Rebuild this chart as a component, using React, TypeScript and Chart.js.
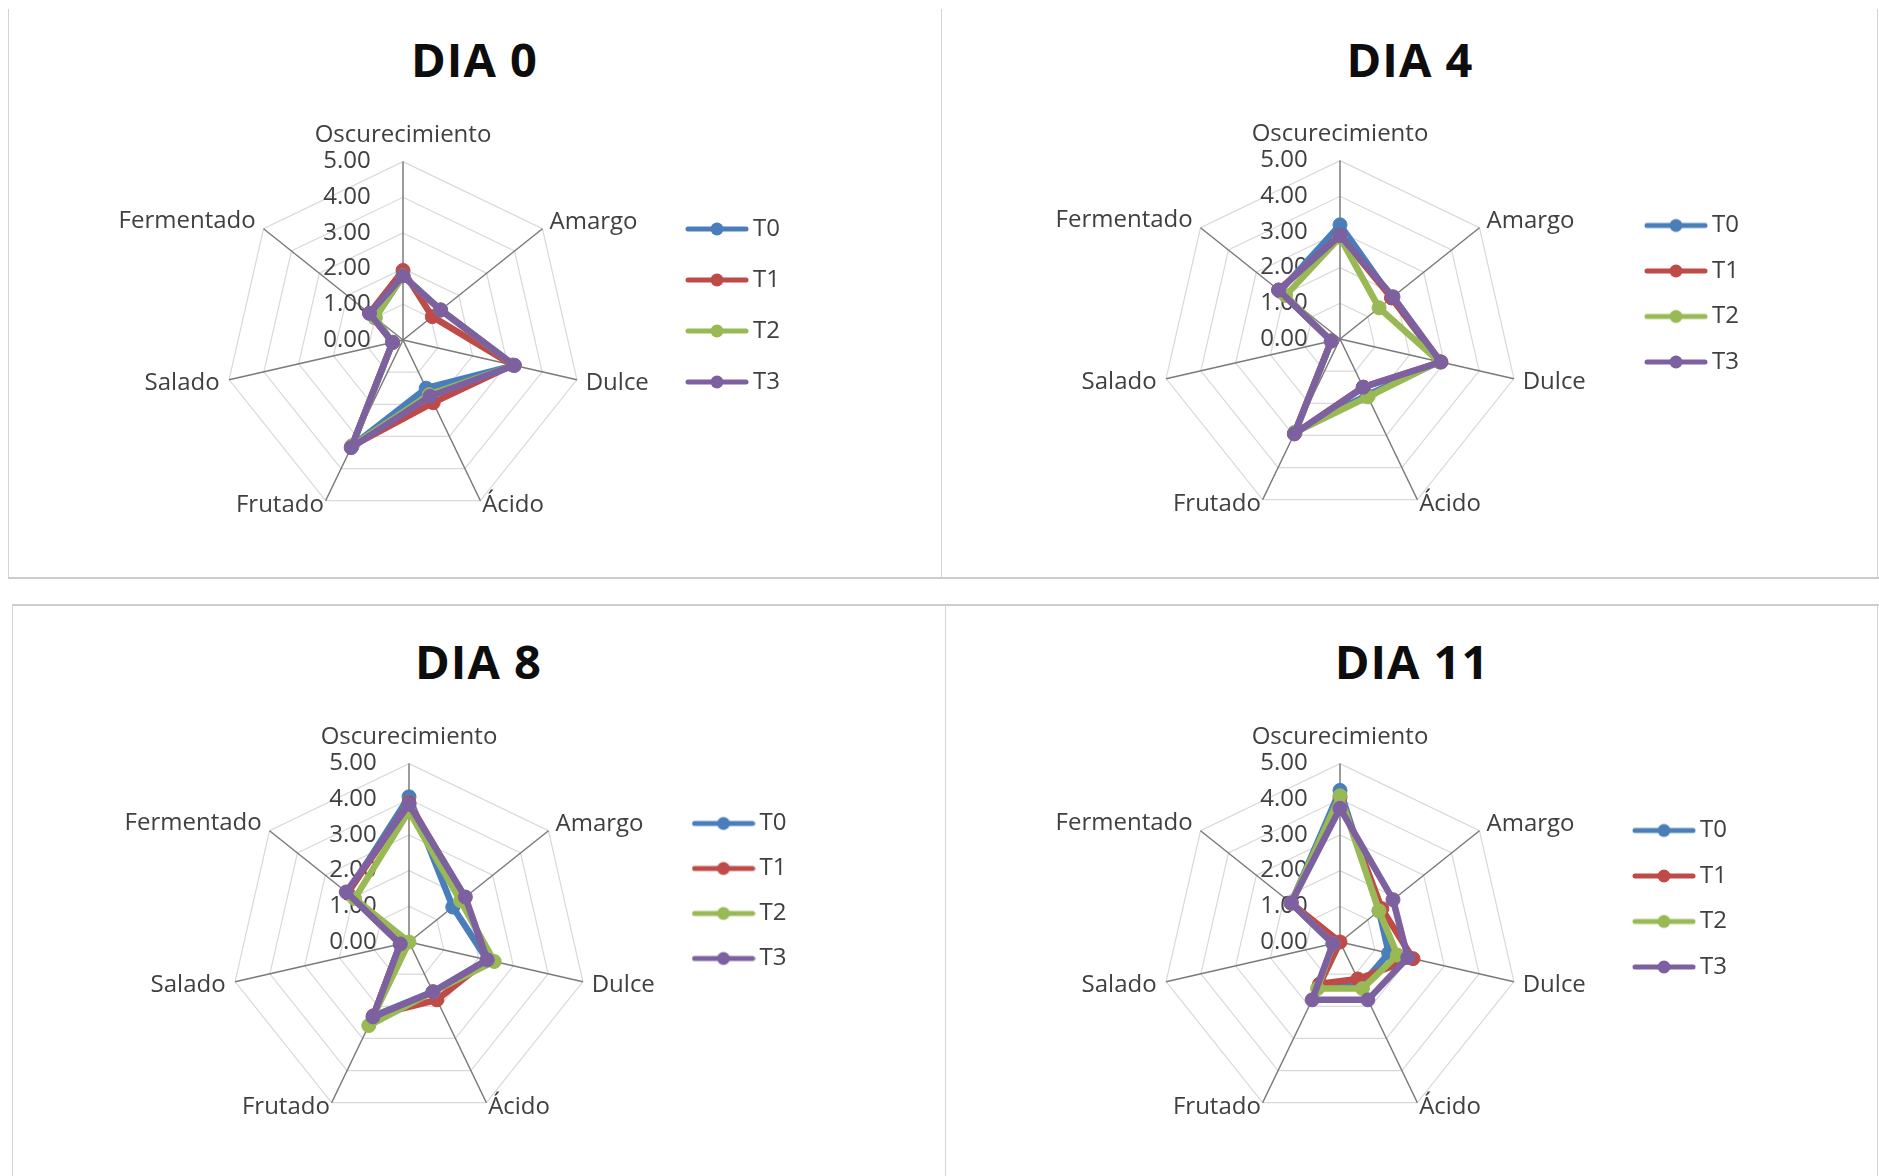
import React, { useEffect, useRef } from "react";
import { Chart, registerables } from "chart.js";

Chart.register(...registerables);

// ---------------- data ----------------
const CATEGORIES = ["Oscurecimiento", "Amargo", "Dulce", "Ácido", "Frutado", "Salado", "Fermentado"];
const SERIES_NAMES = ["T0", "T1", "T2", "T3"];
const TICK_VALUES = [0, 1, 2, 3, 4, 5];
const TITLES = ["DIA 0", "DIA 4", "DIA 8", "DIA 11"];

const DIA0_T0 = [1.8, 1.35, 3.2, 1.5, 3.3, 0.3, 1.0];
const DIA0_T1 = [1.95, 1.05, 3.15, 1.95, 3.3, 0.3, 1.2];
const DIA0_T2 = [1.8, 1.35, 3.2, 1.7, 3.3, 0.3, 1.0];
const DIA0_T3 = [1.8, 1.35, 3.2, 1.75, 3.35, 0.3, 1.2];

const DIA4_T0 = [3.2, 1.85, 2.85, 1.75, 2.9, 0.25, 2.15];
const DIA4_T1 = [2.9, 1.85, 2.9, 1.5, 2.95, 0.25, 2.2];
const DIA4_T2 = [2.85, 1.4, 2.85, 1.8, 2.9, 0.25, 1.95];
const DIA4_T3 = [2.9, 1.9, 2.9, 1.5, 2.95, 0.25, 2.2];

const DIA8_T0 = [4.07, 1.57, 2.25, 1.55, 2.3, 0.25, 2.2];
const DIA8_T1 = [3.9, 2.0, 2.25, 1.8, 2.3, 0.25, 2.2];
const DIA8_T2 = [3.67, 1.85, 2.45, 1.55, 2.6, 0.0, 1.95];
const DIA8_T3 = [3.86, 2.02, 2.25, 1.55, 2.33, 0.25, 2.25];

const DIA11_T0 = [4.25, 1.4, 1.4, 1.35, 1.35, 0.2, 1.75];
const DIA11_T1 = [4.05, 1.5, 2.1, 1.15, 1.3, 0.0, 1.75];
const DIA11_T2 = [4.1, 1.4, 1.65, 1.45, 1.45, 0.2, 1.75];
const DIA11_T3 = [3.75, 1.9, 1.95, 1.8, 1.8, 0.2, 1.75];

const DIA0 = [DIA0_T0, DIA0_T1, DIA0_T2, DIA0_T3];
const DIA4 = [DIA4_T0, DIA4_T1, DIA4_T2, DIA4_T3];
const DIA8 = [DIA8_T0, DIA8_T1, DIA8_T2, DIA8_T3];
const DIA11 = [DIA11_T0, DIA11_T1, DIA11_T2, DIA11_T3];
const ALL_DAYS = [DIA0, DIA4, DIA8, DIA11];

// ---------------- style / layout ----------------
const COLORS = ["#4A7EBB", "#BE4B48", "#98B954", "#7D60A0"];
const TEXT_COLOR = "#404040";
const FONT = "'Open Sans', 'DejaVu Sans', sans-serif";
const FONT_SIZE = 24;
const LABEL_LH = 0.1; // point-label line height factor

const HALF_W = 275; // half width of radial area (before label fitting)
const D0 = 205; // initial drawing area
const TICK_PAD = 12; // radial scale padding from tick font
const LABEL_PAD = [13.4, -3, -3, -8, -8, -2.3, -2];
const SHIFT_X = 13;
const SHIFT_Y = Math.floor((LABEL_PAD[0] + FONT_SIZE * LABEL_LH) / 2);
const LEG_W = 150;
const PAD_R = 10;
const BOX_W = 48;
const SWATCH_W = 64;
const SWATCH_H = 16;

const LAYOUT = [
  { cx: 403, cy: 340, legX: 685, legY: 229, legGap: 51, titleX: 474.5, titleY: 61 },
  { cx: 1340, cy: 339, legX: 1644, legY: 225.5, legGap: 45.5, titleX: 1410, titleY: 61 },
  { cx: 409, cy: 942, legX: 691.5, legY: 823.5, legGap: 45, titleX: 478.5, titleY: 662.5 },
  { cx: 1340, cy: 942, legX: 1632, legY: 830.5, legGap: 45.5, titleX: 1412, titleY: 662.5 },
];

function makeSwatch(color: string): HTMLCanvasElement {
  const c = document.createElement("canvas");
  c.width = SWATCH_W;
  c.height = SWATCH_H;
  const g = c.getContext("2d")!;
  g.strokeStyle = color;
  g.fillStyle = color;
  g.lineWidth = 5;
  g.lineCap = "round";
  g.beginPath();
  g.moveTo(3, SWATCH_H / 2);
  g.lineTo(SWATCH_W - 3, SWATCH_H / 2);
  g.stroke();
  g.beginPath();
  g.arc(SWATCH_W / 2, SWATCH_H / 2, 6.5, 0, Math.PI * 2);
  g.fill();
  return c;
}

type Lay = (typeof LAYOUT)[number];

function RadarChart({ series, lay }: { series: number[][]; lay: Lay }) {
  const ref = useRef<HTMLCanvasElement | null>(null);
  const left = lay.cx - SHIFT_X - HALF_W - TICK_PAD;
  const top = lay.cy - SHIFT_Y - D0 - TICK_PAD;
  const areaW = 2 * (HALF_W + TICK_PAD);
  const width = areaW + LEG_W + PAD_R;
  const height = 2 * (D0 + TICK_PAD);
  const areaRight = left + areaW;
  const lp = lay.legX - areaRight - BOX_W / 2 + SWATCH_W / 2;
  const legTitleH = lay.legY - top - lp - FONT_SIZE / 2;
  const legLH = lay.legGap - lp;

  useEffect(() => {
    if (!ref.current) return;
    const swatches = COLORS.map(makeSwatch);
    const chart = new Chart(ref.current, {
      type: "radar",
      data: {
        labels: CATEGORIES,
        datasets: series.map((vals, i) => ({
          label: SERIES_NAMES[i],
          data: vals,
          borderColor: COLORS[i],
          backgroundColor: COLORS[i],
          pointBackgroundColor: COLORS[i],
          pointBorderColor: COLORS[i],
          borderWidth: 6.5,
          pointRadius: 7,
          pointBorderWidth: 1,
          borderJoinStyle: "round",
          fill: false,
          tension: 0,
          order: series.length - 1 - i,
        })),
      },
      options: {
        responsive: false,
        animation: false,
        devicePixelRatio: 1,
        events: [],
        layout: { padding: { left: 0, top: 0, bottom: 0, right: PAD_R } },
        plugins: {
          title: { display: false },
          tooltip: { enabled: false },
          legend: {
            display: true,
            position: "right",
            align: "start",
            maxWidth: LEG_W,
            title: {
              display: true,
              text: " ",
              font: { size: 10, lineHeight: 1 },
              padding: { top: legTitleH - 10, bottom: 0 },
            },
            labels: {
              usePointStyle: true,
              pointStyleWidth: BOX_W,
              padding: lp,
              color: TEXT_COLOR,
              font: { family: FONT, size: FONT_SIZE, lineHeight: `${legLH}px` },
              generateLabels: (ch: any) =>
                ch.data.datasets.map((ds: any, i: number) => ({
                  // trailing blanks only widen the measured legend box
                  text: [String(ds.label) + " ".repeat(16)],
                  fillStyle: COLORS[i],
                  strokeStyle: COLORS[i],
                  fontColor: TEXT_COLOR,
                  lineWidth: 0,
                  hidden: false,
                  datasetIndex: i,
                  pointStyle: swatches[i],
                  rotation: 0,
                })),
            },
          },
        },
        scales: {
          r: {
            min: TICK_VALUES[0],
            max: TICK_VALUES[TICK_VALUES.length - 1],
            afterBuildTicks: (scale: any) => {
              scale.ticks = [{ value: TICK_VALUES[0] }, ...TICK_VALUES.map((v) => ({ value: v }))];
            },
            ticks: {
              display: true,
              stepSize: 1,
              showLabelBackdrop: false,
              backdropPadding: 0,
              color: TEXT_COLOR,
              font: { family: FONT, size: FONT_SIZE },
              callback: (v: any) => Number(v).toFixed(2) + " ".repeat(18),
            },
            grid: { color: "#d9d9d9", lineWidth: 1.2 },
            angleLines: { color: "#7a7a7a", lineWidth: 1.5 },
            pointLabels: {
              color: TEXT_COLOR,
              font: { family: FONT, size: FONT_SIZE, lineHeight: LABEL_LH },
              padding: (ctx: any) => LABEL_PAD[ctx.index],
            },
          },
        },
      } as any,
    });
    return () => chart.destroy();
  }, [series, lay]);

  return (
    <canvas
      ref={ref}
      width={width}
      height={height}
      style={{ position: "absolute", left, top, width, height }}
    />
  );
}

const line = (l: number, t: number, w: number, h: number, c = "#d4d4d4") => (
  <div style={{ position: "absolute", left: l, top: t, width: w, height: h, background: c }} />
);

export default function App() {
  return (
    <div
      style={{
        position: "absolute",
        left: 0,
        top: 0,
        width: 1879,
        height: 1176,
        overflow: "hidden",
        background: "#ffffff",
      }}
    >
      {line(8, 9, 1, 569)}
      {line(941, 9, 1, 569)}
      {line(1877, 9, 1, 569)}
      {line(8, 577, 1871, 2, "#cdcdcd")}
      {line(12, 604, 1867, 2, "#cdcdcd")}
      {line(12, 605, 1, 571)}
      {line(945, 605, 1, 571)}
      {line(1877, 605, 1, 571)}
      {LAYOUT.map((lay, i) => (
        <div
          key={"t" + i}
          style={{
            position: "absolute",
            left: lay.titleX - 200,
            width: 400,
            top: lay.titleY - 25,
            textAlign: "center",
            fontFamily: FONT,
            fontWeight: 700,
            fontSize: 47,
            letterSpacing: "1px",
            lineHeight: "47px",
            color: "#0d0d0d",
          }}
        >
          {TITLES[i]}
        </div>
      ))}
      {LAYOUT.map((lay, i) => (
        <RadarChart key={"c" + i} series={ALL_DAYS[i]} lay={lay} />
      ))}
    </div>
  );
}
